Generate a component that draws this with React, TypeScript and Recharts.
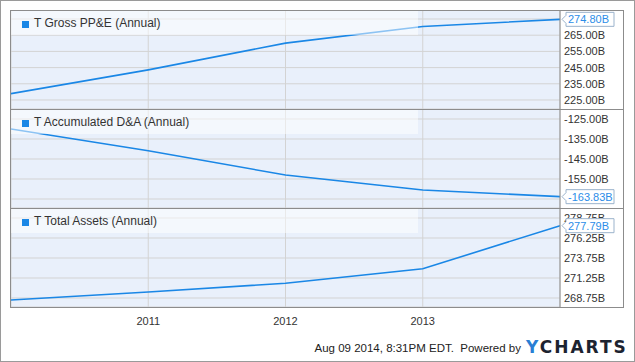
import { LineChart, Line, XAxis, YAxis, CartesianGrid } from 'recharts'

// annual points (Dec of prior year sits at the start of each year tick)
const years = [2010, 2011, 2012, 2013, 2014]
const xTicks = [2011, 2012, 2013]

const grossPPE = [228.9, 243.6, 260.1, 270.4, 274.8]
const accumDA = [-130.0, -140.9, -153.0, -160.5, -163.83]
const totalAssets = [268.5, 269.5, 270.6, 272.4, 277.79]

const ppeTicks = [225, 235, 245, 255, 265, 275]
const daTicks = [-165, -155, -145, -135, -125]
const assetTicks = [268.75, 271.25, 273.75, 276.25, 278.75]

// tick labels hidden under the last-value box
const ppeHidden = [275]
const daHidden = [-165]

const BLUE = '#1a87e6'
const FONT = '"Liberation Sans", Arial, sans-serif'
const BORDER = '#8c8c8c'

const fmt = (v: number) => v.toFixed(2) + 'B'

interface PanelProps {
  title: string
  values: number[]
  ticks: number[]
  hidden?: number[]
  domain: [number, number]
  top: number
  showX?: boolean
}

function LastLabel(props: any) {
  const { x, y, index, value } = props
  if (index !== years.length - 1) return null
  const left = x + 6
  const w = 48
  const h = 14
  const d = `M${x + 2},${y} L${left},${y - 4} L${left},${y - h / 2} L${left + w},${y - h / 2} L${left + w},${y + h / 2} L${left},${y + h / 2} L${left},${y + 4} Z`
  return (
    <g>
      <path d={d} fill="#fff" stroke="#9bb3cc" strokeWidth={1} />
      <text x={left + 2} y={y + 4} fill="#2b8de8" fontSize={11} fontFamily={FONT}>
        {fmt(value)}
      </text>
    </g>
  )
}

function Panel({ title, values, ticks, hidden = [], domain, top, showX }: PanelProps) {
  const data = years.map((year, i) => ({ year, v: values[i] }))
  return (
    <div style={{ position: 'absolute', left: 10, top, width: 613 }}>
      <LineChart
        width={613}
        height={showX ? 122 : 99}
        data={data}
        margin={{ top: 0, right: 0, left: 0, bottom: 0 }}
      >
        <CartesianGrid fill="#e9f0fb" stroke="#d3d3d3" />
        <XAxis
          dataKey="year"
          type="number"
          domain={[2010, 2014]}
          ticks={xTicks}
          interval={0}
          hide={!showX}
          height={showX ? 23 : 0}
          tickLine={false}
          axisLine={false}
          tickMargin={4}
          tick={{ fontSize: 11, fill: '#333', fontFamily: FONT }}
        />
        <YAxis
          orientation="right"
          width={64}
          domain={domain}
          ticks={ticks}
          interval={0}
          allowDataOverflow
          tickLine={false}
          tickSize={0}
          tickMargin={4}
          axisLine={{ stroke: BORDER }}
          tickFormatter={(v: number) => (hidden.includes(v) ? '' : fmt(v))}
          tick={{ fontSize: 11, fill: '#333', fontFamily: FONT }}
        />
        <Line
          type="linear"
          dataKey="v"
          stroke={BLUE}
          strokeWidth={1.6}
          dot={false}
          isAnimationActive={false}
          label={<LastLabel />}
        />
      </LineChart>
      <div
        style={{
          position: 'absolute',
          left: 0,
          top: 0,
          width: 407,
          height: 25,
          background: 'rgba(255,255,255,0.5)',
          fontFamily: FONT,
          fontSize: 12,
          color: '#333',
        }}
      >
        <div style={{ position: 'absolute', left: 11, top: 11, width: 7, height: 7, background: BLUE }} />
        <div style={{ position: 'absolute', left: 23, top: 6, whiteSpace: 'nowrap' }}>{title}</div>
      </div>
    </div>
  )
}

export default function App() {
  const hLines = [10, 109, 208, 307]
  return (
    <div
      style={{
        position: 'absolute',
        left: 0,
        top: 0,
        width: 635,
        height: 362,
        boxSizing: 'border-box',
        border: '1px solid #9a9a9a',
        background: '#fff',
        overflow: 'hidden',
      }}
    >
      <Panel title="T Gross PP&E (Annual)" values={grossPPE} ticks={ppeTicks} hidden={ppeHidden} domain={[219.44, 280.56]} top={9} />
      <Panel title="T Accumulated D&A (Annual)" values={accumDA} ticks={daTicks} hidden={daHidden} domain={[-169.5, -120]} top={108} />
      <Panel title="T Total Assets (Annual)" values={totalAssets} ticks={assetTicks} domain={[267.625, 280]} top={207} showX />
      {hLines.map((y) => (
        <div key={y} style={{ position: 'absolute', left: 9, top: y - 1, width: 614, height: 1, background: BORDER }} />
      ))}
      <div style={{ position: 'absolute', left: 9, top: 9, width: 1, height: 298, background: BORDER }} />
      <div style={{ position: 'absolute', left: 622, top: 9, width: 1, height: 298, background: BORDER }} />
      <div
        style={{
          position: 'absolute',
          right: 113,
          top: 341,
          fontFamily: FONT,
          fontSize: 11.5,
          color: '#222',
          whiteSpace: 'nowrap',
        }}
      >
        Aug 09 2014, 8:31PM EDT.&nbsp; Powered by
      </div>
      <div
        style={{
          position: 'absolute',
          left: 525,
          top: 336,
          fontFamily: '"DejaVu Sans", Arial, sans-serif',
          fontWeight: 'bold',
          fontSize: 17,
          letterSpacing: 2,
          color: '#1c2330',
          whiteSpace: 'nowrap',
        }}
      >
        <span style={{ color: '#2a7fd4' }}>Y</span>CHARTS
      </div>
    </div>
  )
}
